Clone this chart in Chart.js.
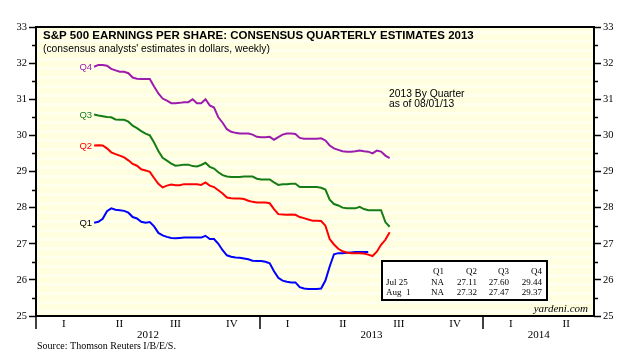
<!DOCTYPE html>
<html><head><meta charset="utf-8">
<script src="https://cdn.jsdelivr.net/npm/chart.js@4/dist/chart.umd.min.js"></script>
<style>html,body{margin:0;padding:0;background:#fff}canvas{display:block}</style>
</head><body>
<canvas id="c" width="634" height="355"></canvas>
<script>
// ---- data (weekly consensus estimates, 2013 quarters) ----
const firstWeek = '2012-04-05';
const seriesNames = ['Q1', 'Q2', 'Q3', 'Q4'];
const q1 = [27.58,27.61,27.69,27.90,27.98,27.94,27.93,27.91,27.86,27.74,
            27.70,27.61,27.58,27.60,27.48,27.30,27.23,27.19,27.16,27.15,
            27.16,27.17,27.17,27.17,27.17,27.17,27.22,27.13,27.13,27.00,
            26.82,26.68,26.64,26.62,26.61,26.59,26.57,26.53,26.52,26.52,
            26.50,26.46,26.24,26.06,25.98,25.95,25.93,25.93,25.80,25.76,
            25.75,25.75,25.75,25.76,25.98,26.37,26.71,26.74,26.74,26.75,
            26.76,26.77,26.77,26.77,26.77];
const q2 = [29.72,29.73,29.72,29.64,29.53,29.48,29.44,29.39,29.31,29.21,
            29.16,29.06,29.03,28.99,28.82,28.66,28.56,28.61,28.64,28.62,
            28.62,28.65,28.65,28.65,28.65,28.63,28.70,28.61,28.57,28.48,
            28.39,28.28,28.26,28.25,28.25,28.24,28.19,28.16,28.14,28.14,
            28.14,28.12,27.96,27.82,27.81,27.80,27.81,27.80,27.74,27.71,
            27.67,27.64,27.64,27.63,27.50,27.13,26.98,26.86,26.79,26.76,
            26.74,26.74,26.74,26.73,26.70,26.66,26.78,26.97,27.11,27.32];
const q3 = [30.58,30.55,30.53,30.51,30.50,30.44,30.43,30.43,30.38,30.27,
            30.20,30.12,30.05,30.00,29.80,29.57,29.38,29.30,29.22,29.16,
            29.17,29.19,29.19,29.15,29.14,29.18,29.24,29.13,29.08,28.98,
            28.90,28.86,28.85,28.85,28.85,28.86,28.86,28.86,28.80,28.78,
            28.78,28.78,28.70,28.63,28.65,28.65,28.66,28.66,28.57,28.57,
            28.57,28.57,28.57,28.55,28.50,28.22,28.10,28.06,28.00,27.98,
            27.98,27.98,28.02,27.96,27.93,27.93,27.93,27.93,27.60,27.47];
const q4 = [31.90,31.95,31.95,31.93,31.84,31.80,31.76,31.76,31.72,31.60,
            31.57,31.56,31.56,31.56,31.35,31.16,31.02,30.96,30.89,30.89,
            30.90,30.92,30.92,31.00,30.89,30.89,31.00,30.83,30.77,30.50,
            30.35,30.17,30.10,30.07,30.05,30.05,30.05,30.02,29.96,29.95,
            29.95,29.96,29.88,29.95,30.02,30.05,30.05,30.04,29.93,29.91,
            29.91,29.91,29.91,29.92,29.86,29.72,29.64,29.60,29.56,29.55,
            29.55,29.56,29.58,29.56,29.55,29.50,29.58,29.55,29.44,29.37];
const quarterLabels = ['I','II','III','IV','I','II','III','IV','I','II'];
const yearLabels = ['2012','2013','2014'];
const tableCols = ['Q1','Q2','Q3','Q4'];
const tableRows = ['Jul 25','Aug  1'];
const tableVals = [['NA','27.11','27.60','29.44'],['NA','27.32','27.47','29.37']];
const yTickValues = [25,26,27,28,29,30,31,32,33];

// ---- axis helpers (days since 2012-01-01) ----
const DAY = 864e5;
const origin = Date.UTC(2012,0,1);
const dayOf = s => (Date.parse(s + 'T00:00:00Z') - origin) / DAY;
const quarterStarts = ['2012-01-01','2012-04-01','2012-07-01','2012-10-01','2013-01-01','2013-04-01','2013-07-01','2013-10-01','2014-01-01','2014-04-01','2014-07-01'].map(dayOf);
const quarterMids = quarterLabels.map((_, i) => (quarterStarts[i] + quarterStarts[i+1]) / 2);
const yearBounds = [quarterStarts[0], quarterStarts[4], quarterStarts[8]];
const yearMids = [(quarterStarts[0]+quarterStarts[4])/2, (quarterStarts[4]+quarterStarts[8])/2, (quarterStarts[8]+quarterStarts[10])/2];
const startDay = dayOf(firstWeek);
const toPts = vals => vals.map((v, i) => ({x: startDay + 7 * i, y: v}));

const colors = {Q1:'#0000FF', Q2:'#FF0000', Q3:'#167D16', Q4:'#9C1CAE'};
const labelColors = {Q1:'#000000', Q2:'#FF0000', Q3:'#167D16', Q4:'#9C1CAE'};
const seriesVals = {Q1:q1, Q2:q2, Q3:q3, Q4:q4};

const serif = "'Liberation Serif', 'Times New Roman', serif";
const sans = "'Liberation Sans', Arial, sans-serif";

const decor = {
  id: 'decor',
  beforeDraw(chart) {
    const {ctx, chartArea: a} = chart;
    ctx.save();
    ctx.fillStyle = '#FFFFFF';
    ctx.fillRect(0, 0, chart.width, chart.height);
    ctx.fillStyle = '#FFFFE0';
    ctx.fillRect(a.left, a.top, a.right - a.left, a.bottom - a.top);
    // faint horizontal banding of the backdrop
    ctx.fillStyle = '#FFFFEE';
    for (let y = a.top + 4; y < a.bottom; y += 9) {
      ctx.fillRect(a.left, y, a.right - a.left, 3);
    }
    ctx.restore();
  },
  afterDraw(chart) {
    const {ctx, chartArea: a, scales} = chart;
    const xs = scales.x, ys = scales.y;
    ctx.save();
    // frame
    ctx.strokeStyle = '#000'; ctx.lineWidth = 2;
    ctx.strokeRect(a.left, a.top, a.right - a.left, a.bottom - a.top);
    // minor y ticks
    ctx.lineWidth = 1.5;
    for (let v = 25.5; v < 33; v += 1) {
      const y = Math.round(ys.getPixelForValue(v)) + 0.5;
      ctx.beginPath(); ctx.moveTo(a.left - 4, y); ctx.lineTo(a.left, y); ctx.stroke();
      ctx.beginPath(); ctx.moveTo(a.right, y); ctx.lineTo(a.right + 4, y); ctx.stroke();
    }
    // year boundary ticks
    yearBounds.forEach(d => {
      const x = Math.round(xs.getPixelForValue(d));
      ctx.beginPath(); ctx.moveTo(x, a.bottom); ctx.lineTo(x, a.bottom + 13); ctx.stroke();
    });
    // title
    ctx.fillStyle = '#000';
    ctx.textBaseline = 'middle'; ctx.textAlign = 'left';
    ctx.font = 'bold 11.5px ' + sans;
    ctx.fillText('S&P 500 EARNINGS PER SHARE: CONSENSUS QUARTERLY ESTIMATES 2013', a.left + 7, a.top + 9);
    ctx.font = '10.3px ' + sans;
    ctx.fillText("(consensus analysts' estimates in dollars, weekly)", a.left + 7, a.top + 22);
    // annotation
    ctx.font = '10.3px ' + sans;
    ctx.fillText('2013 By Quarter', 389, 94);
    ctx.fillText('as of 08/01/13', 389, 104);
    // series labels
    ctx.font = '9.5px ' + sans; ctx.textAlign = 'right';
    seriesNames.forEach(n => {
      const v = seriesVals[n][0];
      ctx.fillStyle = labelColors[n];
      ctx.fillText(n, xs.getPixelForValue(startDay) - 2, ys.getPixelForValue(v) + 1);
    });
    // table
    ctx.fillStyle = '#FFFFFF';
    ctx.fillRect(382, 261, 165, 39);
    ctx.strokeStyle = '#000'; ctx.lineWidth = 2;
    ctx.strokeRect(382, 261, 165, 39);
    ctx.fillStyle = '#000';
    ctx.font = '9px ' + serif;
    const colRight = [444, 477, 509, 542];
    ctx.textAlign = 'right';
    tableCols.forEach((c, i) => ctx.fillText(c, colRight[i], 272));
    tableRows.forEach((r, j) => {
      const y = 283 + j * 9.5;
      ctx.textAlign = 'left';
      ctx.fillText(r, 386, y);
      ctx.textAlign = 'right';
      tableVals[j].forEach((v, i) => ctx.fillText(v, colRight[i], y));
    });
    // credits
    ctx.font = 'italic 11px ' + serif; ctx.textAlign = 'right';
    ctx.fillText('yardeni.com', a.right - 6, a.bottom - 7);
    ctx.font = '10px ' + serif; ctx.textAlign = 'left';
    ctx.fillText('Source: Thomson Reuters I/B/E/S.', 37, 346);
    ctx.restore();
  }
};

const yAxis = (pos, w) => ({
  type: 'linear', position: pos, min: 25, max: 33,
  afterBuildTicks: s => { s.ticks = []; for (let v = 25; v <= 33; v += 0.5) s.ticks.push({value: v}); },
  ticks: {
    autoSkip: false, padding: 2, color: '#000',
    font: {family: serif, size: 10.5},
    callback: v => yTickValues.includes(v) ? String(v) : ''
  },
  grid: {drawOnChartArea: false, drawTicks: true, tickLength: 7, tickWidth: 1.5,
         tickColor: c => (c.tick && Number.isInteger(c.tick.value)) ? '#000' : 'rgba(0,0,0,0)'},
  border: {display: false},
  afterFit: s => { s.width = w; }
});

new Chart(document.getElementById('c'), {
  type: 'line',
  data: {
    datasets: seriesNames.slice().reverse().map(n => ({
      label: n, data: toPts(seriesVals[n]), borderColor: colors[n], borderWidth: 2,
      pointRadius: 0, tension: 0, fill: false, xAxisID: 'x', yAxisID: 'y'
    }))
  },
  options: {
    responsive: false, animation: false, events: [],
    layout: {padding: {top: 27, left: 0, right: 0, bottom: 0}},
    plugins: {legend: {display: false}, tooltip: {enabled: false}, title: {display: false}},
    scales: {
      x: {
        type: 'linear', position: 'bottom', min: quarterStarts[0], max: quarterStarts[10], weight: 0,
        afterBuildTicks: s => { s.ticks = quarterMids.map(v => ({value: v})); },
        ticks: {autoSkip: false, maxRotation: 0, padding: 2, color: '#000',
                font: {family: serif, size: 11},
                callback: (v, i) => quarterLabels[i]},
        grid: {display: false, drawTicks: false},
        border: {display: false},
        afterFit: s => { s.height = 13; }
      },
      x2: {
        type: 'linear', position: 'bottom', min: quarterStarts[0], max: quarterStarts[10], weight: 1,
        afterBuildTicks: s => { s.ticks = yearMids.map(v => ({value: v})); },
        ticks: {autoSkip: false, maxRotation: 0, padding: 0, color: '#000',
                font: {family: serif, size: 11},
                callback: (v, i) => yearLabels[i]},
        grid: {display: false, drawTicks: false},
        border: {display: false},
        afterFit: s => { s.height = 26; }
      },
      y: yAxis('left', 36),
      y2: yAxis('right', 40)
    }
  },
  plugins: [decor]
});
</script>
</body></html>
